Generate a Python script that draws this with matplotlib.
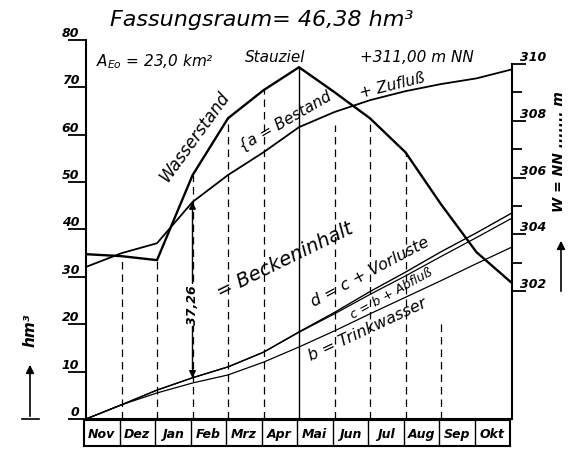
import numpy as np
import matplotlib
matplotlib.use("Agg")
import matplotlib.pyplot as plt

# month columns (curve points sit on the month boundaries)
months = ["Nov", "Dez", "Jan", "Feb", "Mrz", "Apr", "Mai", "Jun", "Jul", "Aug", "Sep", "Okt"]

# water level in m NN (right scale)
wasserstand = [303.30, 303.23, 303.09, 306.08, 308.09, 309.08, 309.89,
               309.01, 308.09, 306.89, 305.06, 303.37, 302.28]

# cumulative volumes in hm3 (left scale)
bestand_a = [32.1, 35.0, 37.1, 45.8, 51.5, 56.3, 61.6, 64.8, 67.3, 69.2, 70.7, 71.9, 73.8]
vorluste_d = [0, 3.0, 6.1, 8.7, 11.0, 14.1, 18.4, 22.5, 26.9, 31.0, 35.3, 39.3, 43.5]
abfluss_c = [0, 3.0, 6.1, 8.7, 11.0, 14.1, 18.3, 22.2, 26.3, 30.2, 34.3, 38.3, 42.4]
trinkwasser_b = [0, 3.0, 5.5, 7.6, 9.3, 12.0, 15.2, 18.6, 22.2, 25.7, 29.2, 32.8, 36.3]

# where the dashed month guides end at the top (Dez .. Sep)
guide_ends = ["W", "W", "W", "W", "W", "stau", 62.0, "W", "W", 21.0]

left_ticks = [0, 10, 20, 30, 40, 50, 60, 70, 80]
right_major = [302, 304, 306, 308, 310]
right_minor = [303, 305, 307, 309]
L_LIM = (0, 80)
R_LIM = (297.49, 310.85)

plt.rcParams["font.family"] = "DejaVu Sans"
plt.rcParams["mathtext.fontset"] = "dejavusans"

fig = plt.figure(figsize=(5.69, 4.55), dpi=100)
W, H = 569, 455


def fpos(px, py):
    return px / W, 1 - py / H


ax = fig.add_axes([86 / W, 1 - 419 / H, 426 / W, 379 / H])
ax2 = ax.twinx()

x = np.arange(len(months) + 1)
ax.set_xlim(0, len(months))
ax.set_ylim(*L_LIM)
ax2.set_ylim(*R_LIM)


def to_left(w):
    return (w - R_LIM[0]) / (R_LIM[1] - R_LIM[0]) * (L_LIM[1] - L_LIM[0])


# curves
ax2.plot(x, wasserstand, color="black", lw=1.7, solid_joinstyle="miter")
ax.plot(x, bestand_a, color="black", lw=1.3)
ax.plot(x, vorluste_d, color="black", lw=1.0)
ax.plot(x, abfluss_c, color="black", lw=0.9)
ax.plot(x, trinkwasser_b, color="black", lw=0.9)

# month guides
for i, end in enumerate(guide_ends, start=1):
    if end == "W":
        top = to_left(wasserstand[i])
    elif end == "stau":
        top = to_left(wasserstand[i])
        ax.plot([i, i], [0, top], color="black", lw=1.0)
        continue
    else:
        top = end
    ax.plot([i, i], [0, top], color="black", lw=0.9, linestyle=(0, (6, 4)))

# Beckeninhalt arrow at Feb
ax.annotate("", xy=(3, bestand_a[3]), xytext=(3, vorluste_d[3]),
            arrowprops=dict(arrowstyle="<|-|>", color="black", lw=1.0,
                            mutation_scale=10, shrinkA=0, shrinkB=0))
ax.text(3, 24.1, "37,26", rotation=90, ha="center", va="center",
        fontsize=9, fontstyle="italic", fontweight="bold",
        bbox=dict(facecolor="white", edgecolor="none", pad=1))

# curve labels
lab = dict(ha="center", va="center", fontstyle="italic", color="black")
ax.text(3.05, 59.5, "Wasserstand", rotation=54, fontsize=12, **lab)
ax.text(5.6, 62.8, "{a = Bestand", rotation=30, fontsize=11, **lab)
ax.text(8.62, 70.3, "+ Zufluß", rotation=14, fontsize=11, **lab)
ax.text(5.6, 33.4, "= Beckeninhalt", rotation=26, fontsize=14, **lab)
ax.text(8.0, 31.0, "d = c + Vorluste", rotation=28, fontsize=11.5, **lab)
ax.text(8.6, 26.4, "c = b + Abfluß", rotation=29, fontsize=9, **lab)
ax.text(7.92, 18.9, "b = Trinkwasser", rotation=25, fontsize=11.5, **lab)

# spines and ticks
ax.spines["top"].set_visible(False)
ax.spines["right"].set_visible(False)
ax2.spines["top"].set_visible(False)
ax2.spines["left"].set_visible(False)
ax2.spines["bottom"].set_visible(False)
for s in ("left", "bottom"):
    ax.spines[s].set_linewidth(1.5)
ax2.spines["right"].set_linewidth(1.5)
ax2.spines["right"].set_bounds(R_LIM[0], 310)

ax.set_xticks([])
ax.set_yticks(left_ticks, [str(v) for v in left_ticks])
ax.tick_params(axis="y", length=13, width=1.3, pad=-8, labelsize=9)
for lbl in ax.get_yticklabels():
    lbl.set_verticalalignment("bottom")
    lbl.set_fontstyle("italic")
    lbl.set_fontweight("bold")

ax2.set_yticks(right_major, [str(v) for v in right_major])
ax2.set_yticks(right_minor, minor=True)
ax2.tick_params(axis="y", which="major", length=10, width=1.3, pad=-4, labelsize=9)
ax2.tick_params(axis="y", which="minor", length=7, width=1.3)
for lbl in ax2.get_yticklabels():
    lbl.set_verticalalignment("bottom")
    lbl.set_fontstyle("italic")
    lbl.set_fontweight("bold")

# month box
axm = fig.add_axes([84 / W, 1 - 446 / H, 426 / W, 26 / H])
axm.set_xlim(0, len(months))
axm.set_ylim(0, 1)
axm.set_xticks([])
axm.set_yticks([])
for s in axm.spines.values():
    s.set_linewidth(1.5)
for i in range(1, len(months)):
    axm.axvline(i, color="black", lw=1.0)
for i, m in enumerate(months):
    axm.text(i + 0.5, 0.45, m, ha="center", va="center", fontsize=9,
             fontstyle="italic", fontweight="bold")

# header texts
fig.text(*fpos(262, 20), "Fassungsraum= 46,38 hm³", ha="center", va="center",
         fontsize=16, fontstyle="italic")
fig.text(*fpos(96, 62), r"$A_{Eo}$ = 23,0 km²", ha="left", va="center",
         fontsize=11, fontstyle="italic")
fig.text(*fpos(245, 58), "Stauziel", ha="left", va="center",
         fontsize=11, fontstyle="italic")
fig.text(*fpos(360, 58), "+311,00 m NN", ha="left", va="center",
         fontsize=11, fontstyle="italic")

# axis unit labels with arrows
fig.text(*fpos(30, 330), "hm³", rotation=90, ha="center", va="center",
         fontsize=11, fontstyle="italic", fontweight="bold")
fig.add_artist(matplotlib.patches.FancyArrowPatch(
    fpos(30, 419), fpos(30, 362), transform=fig.transFigure,
    arrowstyle="-|>", mutation_scale=12, color="black", lw=1.2))
fig.add_artist(matplotlib.lines.Line2D([22 / W, 39 / W], [1 - 419 / H] * 2,
                                       transform=fig.transFigure, color="black", lw=1.2))

fig.text(*fpos(559, 152), "W = NN ....... m", rotation=90, ha="center", va="center",
         fontsize=10, fontstyle="italic", fontweight="bold")
fig.add_artist(matplotlib.patches.FancyArrowPatch(
    fpos(561, 294), fpos(561, 238), transform=fig.transFigure,
    arrowstyle="-|>", mutation_scale=12, color="black", lw=1.2))

fig.savefig("out.png", dpi=100, facecolor="white")
